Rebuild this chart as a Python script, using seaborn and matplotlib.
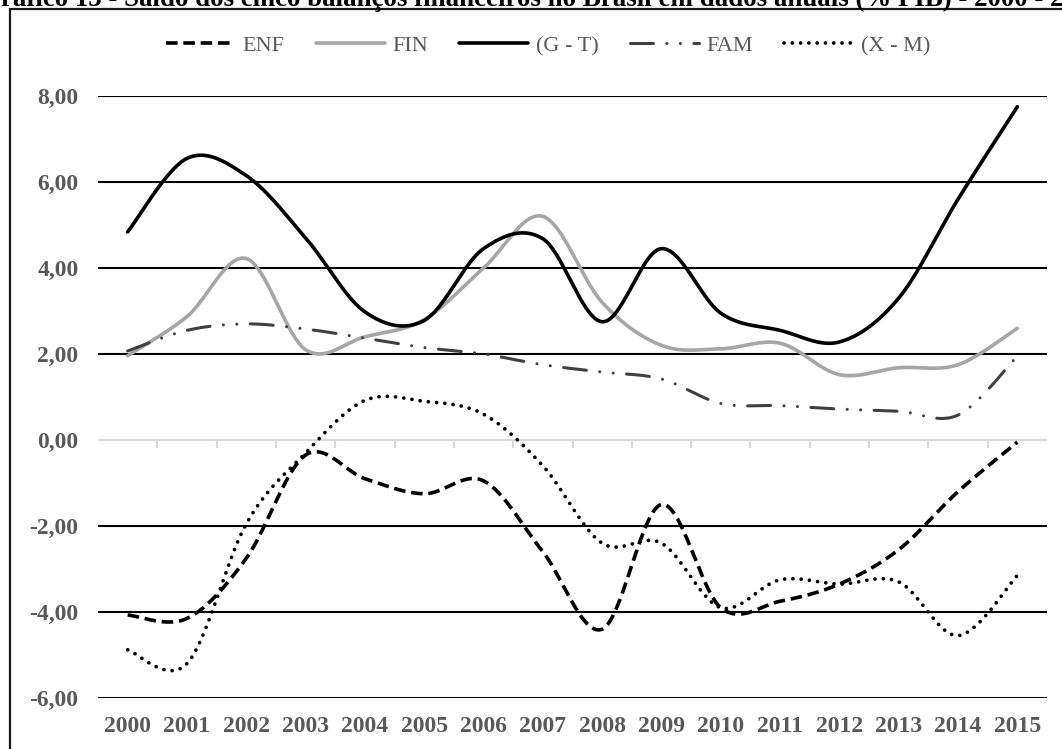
import numpy as np
import pandas as pd
import matplotlib
matplotlib.use("Agg")
import matplotlib.pyplot as plt
from matplotlib.patches import Rectangle
from matplotlib.ticker import FixedLocator, FuncFormatter
import seaborn as sns

# Annual balances (% of GDP), 2000-2015
years = [str(y) for y in range(2000, 2016)]
enf = [-4.07, -4.15, -2.75, -0.35, -0.90, -1.25, -0.95, -2.60, -4.40, -1.50,
       -3.90, -3.75, -3.35, -2.55, -1.20, -0.05]
fin = [1.96, 2.87, 4.22, 2.10, 2.40, 2.80, 4.00, 5.20, 3.20, 2.20,
       2.12, 2.25, 1.52, 1.68, 1.75, 2.60]
gt = [4.84, 6.55, 6.15, 4.70, 2.98, 2.78, 4.45, 4.68, 2.75, 4.45,
      2.95, 2.55, 2.28, 3.30, 5.60, 7.75]
fam = [2.07, 2.55, 2.70, 2.58, 2.37, 2.15, 2.00, 1.75, 1.58, 1.42,
       0.85, 0.80, 0.72, 0.67, 0.58, 1.95]
xm = [-4.88, -5.20, -1.95, -0.30, 0.92, 0.90, 0.60, -0.60, -2.40, -2.40,
      -3.90, -3.25, -3.35, -3.30, -4.55, -3.15]

series_names = ["ENF", "FIN", "(G - T)", "FAM", "(X - M)"]
series_values = [enf, fin, gt, fam, xm]
y_ticks = [-6, -4, -2, 0, 2, 4, 6, 8]

title = ("Gráfico 13 - Saldo dos cinco balanços financeiros no Brasil "
         "em dados anuais (% PIB) - 2000 - 2015")


def smooth_curve(values, steps=40):
    """Smoothed line through the yearly points (cubic Bezier, Catmull-Rom tangents)."""
    y = np.asarray(values, dtype=float)
    n = len(y)
    xs, ys = [], []
    for i in range(n - 1):
        y0 = y[i - 1] if i > 0 else y[i]
        y3 = y[i + 2] if i + 2 < n else y[i + 1]
        x0 = i - 1 if i > 0 else i
        x3 = i + 2 if i + 2 < n else i + 1
        p1 = np.array([i, y[i]])
        p2 = np.array([i + 1, y[i + 1]])
        c1 = p1 + (p2 - np.array([x0, y0])) / 6.0
        c2 = p2 - (np.array([x3, y3]) - p1) / 6.0
        t = np.linspace(0, 1, steps, endpoint=(i == n - 2))[:, None]
        b = ((1 - t) ** 3) * p1 + 3 * ((1 - t) ** 2) * t * c1 \
            + 3 * (1 - t) * t ** 2 * c2 + t ** 3 * p2
        xs.append(b[:, 0])
        ys.append(b[:, 1])
    return np.concatenate(xs), np.concatenate(ys)


sns.set_theme(style="white")
plt.rcParams["font.family"] = ["Liberation Serif", "DejaVu Serif"]

W, H = 1062, 749
fig = plt.figure(figsize=(W / 100, H / 100), dpi=100)
ax = fig.add_axes([98 / W, 1 - 698 / H, (1047 - 98) / W, (698 - 96) / H])

styles = {
    "ENF": dict(color="black", lw=2.6, dashes=(3.2, 1.6), capstyle="butt"),
    "FIN": dict(color="#A6A6A6", lw=2.6, dashes=None, capstyle="round"),
    "(G - T)": dict(color="black", lw=2.6, dashes=None, capstyle="round"),
    "FAM": dict(color="#404040", lw=2.2, dashes=(7.5, 4.4, 0.01, 4.4, 0.01, 4.4),
                capstyle="round"),
    "(X - M)": dict(color="black", lw=2.7, dashes=(0.01, 2.2), capstyle="round"),
}

# horizontal gridlines (the zero line is drawn as the category axis)
for v in y_ticks:
    if v != 0:
        ax.axhline(v, color="black", lw=1.5, zorder=1)
ax.axhline(0, color="#D9D9D9", lw=1.5, zorder=1)

handles = []
for name, vals in zip(series_names, series_values):
    sx, sy = smooth_curve(vals)
    df = pd.DataFrame({"x": sx, "y": sy})
    st = styles[name]
    sns.lineplot(data=df, x="x", y="y", ax=ax, color=st["color"], lw=st["lw"],
                 sort=False, estimator=None, label=name, zorder=3)
    line = ax.lines[-1]
    if st["dashes"] is not None:
        line.set_dashes(st["dashes"])
    line.set_dash_capstyle(st["capstyle"])
    line.set_solid_capstyle(st["capstyle"])
    handles.append(line)

ax.set_xlim(-0.5, len(years) - 0.5)
ax.set_ylim(min(y_ticks), max(y_ticks))
ax.set_xlabel("")
ax.set_ylabel("")
for s in ax.spines.values():
    s.set_visible(False)

label_color = "#595959"
ax.set_yticks(y_ticks)
ax.yaxis.set_major_formatter(FuncFormatter(lambda v, p: f"{v:.2f}".replace(".", ",")))
ax.set_xticks(range(len(years)))
ax.set_xticklabels(years)
ax.tick_params(axis="y", length=0, pad=14, labelsize=17, labelcolor=label_color)
ax.tick_params(axis="x", length=0, pad=13, labelsize=17, labelcolor=label_color)
for lab in ax.get_xticklabels() + ax.get_yticklabels():
    lab.set_fontweight("bold")

# category axis at zero with boundary tick marks
zero_frac = (0 - min(y_ticks)) / (max(y_ticks) - min(y_ticks))
sec = ax.secondary_xaxis(zero_frac)
sec.spines["bottom"].set_visible(False)
sec.xaxis.set_major_locator(FixedLocator(np.arange(-0.5, len(years), 1.0)[1:-1]))
sec.tick_params(axis="x", direction="out", length=6, width=1.5, color="#D9D9D9",
                labelbottom=False)

leg = ax.get_legend()
if leg is not None:
    leg.remove()
fig.legend(handles=handles, labels=series_names, loc="center",
           bbox_to_anchor=(548 / W, 1 - 46 / H), ncol=5, frameon=False,
           fontsize=16, handlelength=3.1, handletextpad=0.35, columnspacing=1.4,
           labelcolor=label_color)

# outer frame
fig.patches.append(Rectangle((10 / W, -0.05), 1.2, 1.05 - 9 / H, transform=fig.transFigure,
                             fill=False, edgecolor="#1a1a1a", lw=1.6, zorder=0))

fig.text(-20 / W, 1 - 6 / H, title, fontsize=19.4, fontweight="bold",
         ha="left", va="baseline", color="black")

fig.savefig("out.png", dpi=100)
